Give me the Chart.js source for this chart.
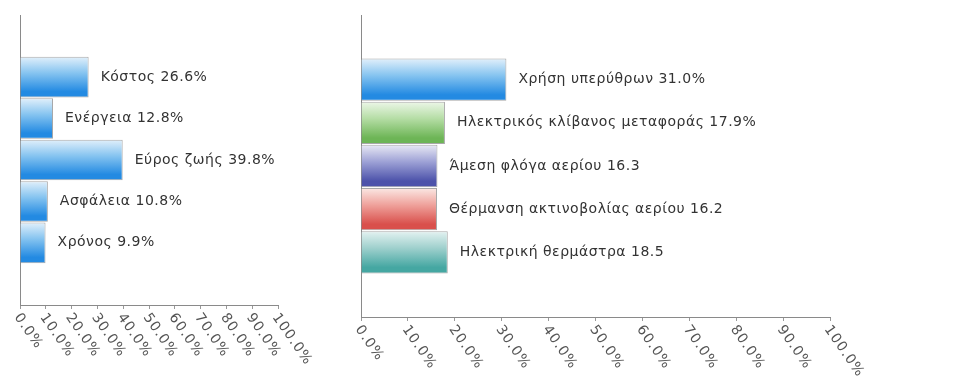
<!DOCTYPE html>
<html>
<head>
<meta charset="utf-8">
<script src="https://cdn.jsdelivr.net/npm/chart.js@4"></script>
<style>
  html, body { margin: 0; padding: 0; background: #fff; }
  .box { position: absolute; top: 0; height: 381px; }
  #boxLeft { left: 0; width: 330px; }
  #boxRight { left: 340px; width: 632px; }
</style>
</head>
<body>
<div class="box" id="boxLeft"><canvas id="graficaCriterios"></canvas></div>
<div class="box" id="boxRight"><canvas id="graficaMethodoi"></canvas></div>
<script>
// κριτήρια επιλογής
const kritiria = ['Κόστος', 'Ενέργεια', 'Εύρος ζωής', 'Ασφάλεια', 'Χρόνος'];
const kritiriaTimes = [26.6, 12.8, 39.8, 10.8, 9.9];

// μέθοδοι θέρμανσης
const methodoi = ['Χρήση υπερύθρων', 'Ηλεκτρικός κλίβανος μεταφοράς', 'Άμεση φλόγα αερίου',
                  'Θέρμανση ακτινοβολίας αερίου', 'Ηλεκτρική θερμάστρα'];
const methodoiTimes = [31.0, 17.9, 16.3, 16.2, 18.5];
const methodoiMonades = ['%', '%', '', '', ''];

// άξονας x: 0% - 100% ανά 10
const axonasMin = 0;
const axonasMax = 100;
const axonasBima = 10;

// χρώματα ράβδων (πάνω, μέση, κάτω)
const mple = ['#e4f1fb', '#86c4f0', '#238ae2'];
const xromata = [
    mple,
    ['#eef7ea', '#b5dda5', '#6db556'],
    ['#ebebf5', '#9ea2d6', '#4c52aa'],
    ['#fbeae6', '#efa29c', '#d9504c'],
    ['#e6f3f2', '#9fd0cd', '#45a7a2']
];

Chart.defaults.font.family = '"DejaVu Sans", Verdana, sans-serif';
Chart.defaults.animation = false;

// κενή θέση πάνω και κάτω από τις ράβδους
function mePerithorio(arr, keno) {
    return [keno].concat(arr, [keno]);
}

function diavathmisi(paleta) {
    return function (c) {
        const y = c.chart.scales.y;
        const i = c.dataIndex;
        if (!y || i === undefined || i < 1) return paleta(0)[2];
        const p = paleta(i - 1) || paleta(0);
        const top = y.getPixelForValue(i - 0.5);
        const bottom = y.getPixelForValue(i + 0.5);
        if (!isFinite(top) || !isFinite(bottom) || top === bottom) return p[2];
        const g = c.chart.ctx.createLinearGradient(0, top, 0, bottom);
        g.addColorStop(0, p[0]);
        g.addColorStop(0.4, p[1]);
        g.addColorStop(0.85, p[2]);
        g.addColorStop(1, p[2]);
        return g;
    };
}

// ετικέτες δίπλα στις ράβδους
const etiketesRavdon = {
    id: 'etiketesRavdon',
    afterDatasetsDraw(chart, args, opts) {
        const ctx = chart.ctx;
        const meta = chart.getDatasetMeta(0);
        ctx.save();
        ctx.font = '14px "DejaVu Sans"';
        ctx.letterSpacing = '0.5px';
        ctx.fillStyle = '#333';
        ctx.textAlign = 'left';
        ctx.textBaseline = 'middle';
        meta.data.forEach((bar, i) => {
            const v = chart.data.datasets[0].data[i];
            if (v === null) return;
            const keimeno = chart.data.labels[i] + ' ' + v.toFixed(1) + opts.monades[i - 1];
            ctx.fillText(keimeno, bar.x + 12, bar.y);
        });
        ctx.restore();
    }
};

// πλάγιες ετικέτες του άξονα x
const plagiesEtiketes = {
    id: 'plagiesEtiketes',
    afterDraw(chart) {
        const ctx = chart.ctx;
        const x = chart.scales.x;
        ctx.save();
        ctx.font = '14px "DejaVu Sans"';
        ctx.letterSpacing = '1px';
        ctx.fillStyle = '#555';
        ctx.textAlign = 'left';
        ctx.textBaseline = 'middle';
        x.ticks.forEach(t => {
            const px = x.getPixelForValue(t.value);
            ctx.save();
            ctx.translate(px - 3, x.top + 10);
            ctx.rotate(55 * Math.PI / 180);
            ctx.fillText(t.value.toFixed(1) + '%', 0, 0);
            ctx.restore();
        });
        ctx.restore();
    }
};

function ftiakseGrafima(id, katigories, times, paleta, monades, padding, xHeight) {
    new Chart(document.getElementById(id), {
        type: 'bar',
        data: {
            labels: mePerithorio(katigories, ''),
            datasets: [{
                data: mePerithorio(times, null),
                backgroundColor: diavathmisi(paleta),
                borderColor: 'rgba(130, 130, 130, 0.7)',
                borderWidth: 1,
                borderSkipped: 'left',
                categoryPercentage: 1,
                barPercentage: 0.98
            }]
        },
        options: {
            indexAxis: 'y',
            responsive: true,
            maintainAspectRatio: false,
            layout: { padding: padding },
            plugins: {
                legend: { display: false },
                tooltip: { enabled: false },
                etiketesRavdon: { monades: monades }
            },
            scales: {
                x: {
                    min: axonasMin,
                    max: axonasMax,
                    ticks: { stepSize: axonasBima, display: false },
                    grid: { drawOnChartArea: false, drawTicks: true, tickLength: 4, color: '#999' },
                    border: { color: '#8a8a8a', width: 1 },
                    afterFit(s) { s.height = xHeight; }
                },
                y: {
                    ticks: { display: false },
                    grid: { display: false, drawTicks: false },
                    border: { color: '#8a8a8a', width: 1 }
                }
            }
        },
        plugins: [etiketesRavdon, plagiesEtiketes]
    });
}

ftiakseGrafima('graficaCriterios', kritiria, kritiriaTimes, () => mple,
    ['%', '%', '%', '%', '%'], { left: 20, right: 52, top: 15, bottom: 0 }, 76);

ftiakseGrafima('graficaMethodoi', methodoi, methodoiTimes, i => xromata[i],
    methodoiMonades, { left: 21, right: 142, top: 15, bottom: 0 }, 64);
</script>
</body>
</html>
